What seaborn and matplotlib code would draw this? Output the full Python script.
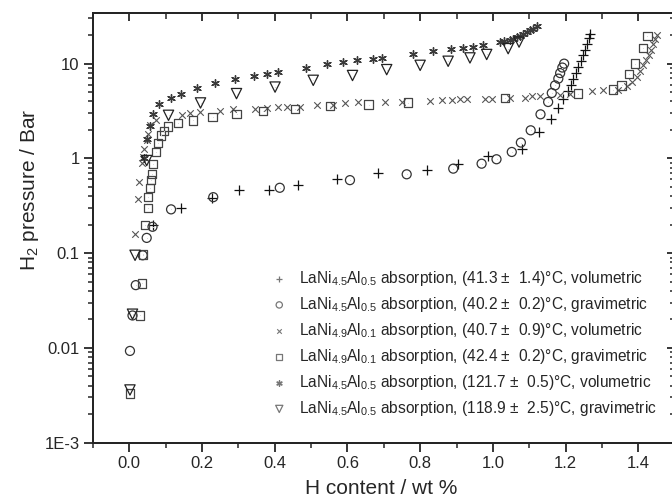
import numpy as np
import pandas as pd
import matplotlib
matplotlib.use("Agg")
import matplotlib.pyplot as plt
import seaborn as sns
from matplotlib.ticker import MultipleLocator, LogLocator, NullFormatter

# data: H content (wt %) and H2 pressure (bar)
x_s1 = [0.066, 0.142, 0.227, 0.302, 0.385, 0.465, 0.570, 0.683, 0.818, 0.905, 0.987, 1.079, 1.127,
        1.160, 1.180, 1.192, 1.207, 1.215, 1.221, 1.228, 1.235, 1.242, 1.249, 1.254, 1.258, 1.263, 1.267]
p_s1 = [0.20, 0.30, 0.38, 0.46, 0.46, 0.53, 0.61, 0.71, 0.76, 0.88, 1.06, 1.27, 1.90,
        2.63, 3.44, 4.28, 5.2, 6.0, 6.95, 8.0, 9.2, 10.6, 12.2, 14.0, 16.2, 18.5, 20.7]

x_s2 = [0.002, 0.009, 0.018, 0.037, 0.048, 0.064, 0.115, 0.231, 0.414, 0.607, 0.763, 0.891, 0.969,
        1.010, 1.052, 1.077, 1.104, 1.131, 1.152, 1.162, 1.171, 1.180, 1.185, 1.191, 1.196]
p_s2 = [0.0093, 0.022, 0.046, 0.095, 0.145, 0.19, 0.29, 0.39, 0.49, 0.59, 0.68, 0.78, 0.88,
        0.98, 1.17, 1.47, 1.98, 2.92, 3.94, 4.9, 5.9, 6.95, 7.95, 9.1, 10.0]

x_s3 = [0.016, 0.023, 0.028, 0.034, 0.039, 0.041, 0.048, 0.052, 0.057, 0.073,
        0.144, 0.167, 0.194, 0.250, 0.286, 0.346, 0.378, 0.410, 0.433, 0.469,
        0.515, 0.561, 0.593, 0.630, 0.703, 0.749, 0.827, 0.859, 0.887, 0.909,
        0.928, 0.978, 0.997, 1.047, 1.088, 1.107, 1.130, 1.185, 1.212, 1.272,
        1.304, 1.345, 1.368, 1.382, 1.395, 1.405, 1.414, 1.421, 1.428, 1.435,
        1.441, 1.446, 1.450]
p_s3 = [0.16, 0.37, 0.56, 0.90, 1.03, 1.27, 1.55, 1.83, 2.24, 2.57,
        2.85, 3.0, 3.1, 3.2, 3.3, 3.3, 3.44, 3.45, 3.45, 3.5,
        3.63, 3.7, 3.88, 3.94, 3.94, 3.94, 4.0, 4.1, 4.15, 4.28,
        4.28, 4.2, 4.28, 4.38, 4.35, 4.52, 4.52, 4.63, 4.82, 5.14,
        5.23, 5.33, 5.77, 6.4, 7.2, 8.3, 9.6, 10.8, 12.2, 14.0,
        16.2, 18.0, 19.9]

x_s4 = [0.002, 0.029, 0.036, 0.038, 0.043, 0.051, 0.052, 0.057, 0.060, 0.062,
        0.066, 0.073, 0.080, 0.087, 0.095, 0.107, 0.135, 0.176, 0.229, 0.295,
        0.367, 0.456, 0.552, 0.658, 0.767, 1.033, 1.235, 1.331, 1.354, 1.375,
        1.391, 1.412, 1.425]
p_s4 = [0.0033, 0.022, 0.048, 0.097, 0.197, 0.30, 0.39, 0.49, 0.59, 0.69,
        0.88, 1.17, 1.46, 1.75, 1.94, 2.18, 2.36, 2.52, 2.74, 2.92,
        3.14, 3.32, 3.55, 3.7, 3.88, 4.34, 4.83, 5.33, 5.9, 7.8,
        10.0, 14.6, 19.5]

x_s5 = [0.040, 0.050, 0.056, 0.064, 0.082, 0.114, 0.141, 0.187, 0.236, 0.291,
        0.344, 0.380, 0.410, 0.486, 0.545, 0.589, 0.625, 0.671, 0.694, 0.780,
        0.836, 0.885, 0.919, 0.946, 0.972, 1.020, 1.030, 1.047, 1.056, 1.065,
        1.075, 1.084, 1.093, 1.102, 1.111, 1.120]
p_s5 = [1.0, 1.6, 2.2, 2.95, 3.72, 4.34, 4.78, 5.59, 6.3, 6.95,
        7.4, 7.85, 8.15, 9.0, 9.8, 10.4, 10.8, 11.1, 11.6, 12.7,
        13.6, 14.2, 14.6, 15.0, 15.6, 16.9, 17.3, 17.9, 18.4, 18.9,
        19.8, 20.7, 21.5, 22.4, 23.5, 24.7]

x_s6 = [0.002, 0.009, 0.016, 0.048, 0.108, 0.196, 0.295, 0.401, 0.506, 0.614,
        0.708, 0.800, 0.877, 0.937, 0.983, 1.042, 1.072]
p_s6 = [0.0036, 0.0227, 0.095, 0.95, 2.85, 3.85, 4.83, 5.66, 6.67, 7.5,
        8.65, 9.6, 10.6, 11.5, 12.5, 14.4, 16.9]

labels = [
    r"LaNi$_{4.5}$Al$_{0.5}$ absorption, (41.3 ±  1.4)°C, volumetric",
    r"LaNi$_{4.5}$Al$_{0.5}$ absorption, (40.2 ±  0.2)°C, gravimetric",
    r"LaNi$_{4.9}$Al$_{0.1}$ absorption, (40.7 ±  0.9)°C, volumetric",
    r"LaNi$_{4.9}$Al$_{0.1}$ absorption, (42.4 ±  0.2)°C, gravimetric",
    r"LaNi$_{4.5}$Al$_{0.5}$ absorption, (121.7 ±  0.5)°C, volumetric",
    r"LaNi$_{4.5}$Al$_{0.5}$ absorption, (118.9 ±  2.5)°C, gravimetric",
]

y_ticks = [1e-3, 0.01, 0.1, 1, 10]
y_ticklabels = ["1E-3", "0.01", "0.1", "1", "10"]
x_ticks = [0.0, 0.2, 0.4, 0.6, 0.8, 1.0, 1.2, 1.4]
x_ticklabels = ["0.0", "0.2", "0.4", "0.6", "0.8", "1.0", "1.2", "1.4"]

# style
sns.set_style("ticks")
plt.rcParams["font.family"] = ["Liberation Sans", "DejaVu Sans"]
plt.rcParams["mathtext.fontset"] = "custom"
plt.rcParams["mathtext.rm"] = "Liberation Sans"
plt.rcParams["mathtext.it"] = "Liberation Sans:italic"
plt.rcParams["mathtext.default"] = "regular"

fig = plt.figure(figsize=(6.72, 5), dpi=100)
ax = fig.add_axes([0.1382, 0.1146, 0.8658, 0.8588])

series = [
    (x_s1, p_s1, "+", "#111111", 45, False, 0.9),
    (x_s2, p_s2, "o", "#333333", 42, True, 0.9),
    (x_s3, p_s3, "x", "#555555", 22, False, 0.8),
    (x_s4, p_s4, "s", "#444444", 36, True, 0.9),
    (x_s5, p_s5, (6, 2, 0), "#3a3a3a", 30, False, 1.0),
    (x_s6, p_s6, "v", "#222222", 55, True, 0.9),
]

for (xs, ps, mk, col, size, hollow, lw), lab in zip(series, labels):
    if hollow:
        sns.scatterplot(x=xs, y=ps, marker=mk, s=size, facecolor="none",
                        edgecolor=col, linewidth=lw, label=lab, ax=ax, zorder=3)
        # small dot in the middle, Origin style
        sns.scatterplot(x=xs, y=ps, marker=".", s=2, color=col, linewidth=0,
                        legend=False, ax=ax, zorder=3)
    else:
        sns.scatterplot(x=xs, y=ps, marker=mk, s=size, color=col,
                        linewidth=lw, label=lab, ax=ax, zorder=3)

ax.set_yscale("log")
ax.set_xlim(-0.1, 1.5)
ax.set_ylim(1e-3, 34)

ax.set_xticks(x_ticks, x_ticklabels)
ax.xaxis.set_minor_locator(MultipleLocator(0.1))
ax.set_yticks(y_ticks, y_ticklabels)
ax.yaxis.set_minor_locator(LogLocator(base=10, subs=np.arange(2, 10)))
ax.yaxis.set_minor_formatter(NullFormatter())

ax.tick_params(which="major", direction="out", length=6.5, width=1.3,
               labelsize=12, pad=3, top=False, right=False)
ax.tick_params(which="minor", direction="out", length=3.5, width=1.1,
               top=False, right=False)
for sp in ax.spines.values():
    sp.set_linewidth(1.4)
    sp.set_color("black")

# inward ticks on top and right
ax_top = ax.twiny()
ax_top.set_xlim(ax.get_xlim())
ax_top.set_xticks(x_ticks)
ax_top.xaxis.set_minor_locator(MultipleLocator(0.1))
ax_top.tick_params(which="major", direction="in", length=6, width=1.3, labeltop=False)
ax_top.tick_params(which="minor", direction="in", length=4, width=1.1)

ax_right = ax.twinx()
ax_right.set_yscale("log")
ax_right.set_ylim(ax.get_ylim())
ax_right.set_yticks(y_ticks)
ax_right.yaxis.set_minor_locator(LogLocator(base=10, subs=np.arange(2, 10)))
ax_right.yaxis.set_minor_formatter(NullFormatter())
ax_right.tick_params(which="major", direction="in", length=6, width=1.3, labelright=False)
ax_right.tick_params(which="minor", direction="in", length=3.5, width=1.1)
for a in (ax_top, ax_right):
    for sp in a.spines.values():
        sp.set_linewidth(1.4)

ax.set_xlabel("H content / wt %", fontsize=15)
ax.set_ylabel(r"H$_2$ pressure / Bar", fontsize=15)
ax.xaxis.set_label_coords(0.495, -0.085)
ax.yaxis.set_label_coords(-0.09, 0.59)

leg = ax.legend(loc="upper left", bbox_to_anchor=(0.404, 0.462),
                bbox_transform=fig.transFigure, frameon=False, fontsize=11.2,
                handlelength=1.0, handletextpad=0.75, labelspacing=0.45,
                borderpad=0, borderaxespad=0, markerscale=0.7)
for h in leg.legend_handles:
    h.set_edgecolor("#777777")
    if h.get_facecolor().size and h.get_facecolor()[0][3] > 0:
        h.set_facecolor("#777777")

fig.savefig("out.png", dpi=100)
